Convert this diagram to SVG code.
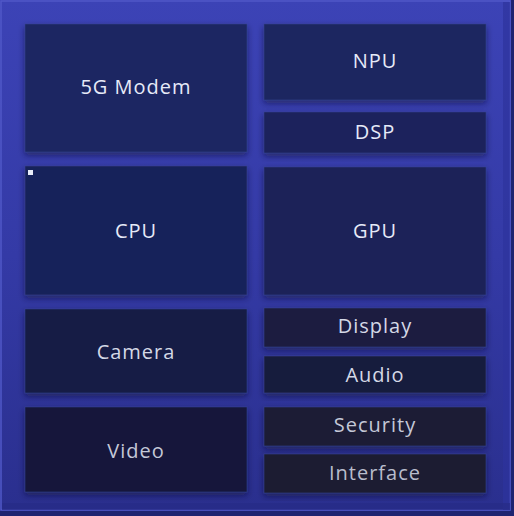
<svg xmlns="http://www.w3.org/2000/svg" width="514" height="516" viewBox="0 0 514 516">
<defs>
<linearGradient id="bg" x1="0" y1="0" x2="0" y2="1">
<stop offset="0" stop-color="#3c43b6"/>
<stop offset="0.5" stop-color="#343aa6"/>
<stop offset="1" stop-color="#2a2f8e"/>
</linearGradient>
<filter id="sh" x="-10%" y="-10%" width="120%" height="130%">
<feDropShadow dx="0" dy="3" stdDeviation="3" flood-color="#0a0d30" flood-opacity="0.55"/>
</filter>
</defs>
<style>
.box{stroke:#35418e;stroke-width:0.6;filter:url(#sh)}
.lbl{font-family:"Open Sans","Liberation Sans",sans-serif;font-size:20px;letter-spacing:1px;text-anchor:middle}
</style>
<rect x="0" y="0" width="514" height="516" fill="#1e2370"/>
<rect x="0" y="0" width="511" height="511" fill="url(#bg)"/>
<rect x="1" y="1" width="509" height="509" fill="none" stroke="#5058c8" stroke-width="1.5"/>
<rect x="503" y="2" width="7" height="508" fill="#2d339c" opacity="0.7"/>
<rect x="2" y="503" width="508" height="7" fill="#262b86" opacity="0.7"/>
<g id="modem">
<rect class="box" x="25" y="24" width="222" height="128" fill="#1c2762"/>
<text class="lbl" x="136" y="94" fill="#e6eaf8">5G Modem</text>
</g>
<g id="npu">
<rect class="box" x="264" y="24" width="222" height="76" fill="#1c2660"/>
<text class="lbl" x="375" y="68" fill="#e6eaf8">NPU</text>
</g>
<g id="dsp">
<rect class="box" x="264" y="112" width="222" height="41" fill="#1b245c"/>
<text class="lbl" x="375" y="139" fill="#e6eaf8">DSP</text>
</g>
<g id="cpu">
<rect class="box" x="25" y="166" width="222" height="129" fill="#19225a"/>
<rect x="28" y="170" width="5" height="5" fill="#e8ecf8"/>
<text class="lbl" x="136" y="238" fill="#e6eaf8">CPU</text>
</g>
<g id="gpu">
<rect class="box" x="264" y="167" width="222" height="128" fill="#1a2258"/>
<text class="lbl" x="375" y="238" fill="#e6eaf8">GPU</text>
</g>
<g id="camera">
<rect class="box" x="25" y="309" width="222" height="84" fill="#161c45"/>
<text class="lbl" x="136" y="359" fill="#d4d8e6">Camera</text>
</g>
<g id="video">
<rect class="box" x="25" y="407" width="222" height="85" fill="#13173a"/>
<text class="lbl" x="136" y="458" fill="#c4c8d8">Video</text>
</g>
<g id="display">
<rect class="box" x="264" y="308" width="222" height="39" fill="#1a1e40"/>
<text class="lbl" x="375" y="333" fill="#d4d8e6">Display</text>
</g>
<g id="audio">
<rect class="box" x="264" y="356" width="222" height="37" fill="#191c3c"/>
<text class="lbl" x="375" y="382" fill="#d4d8e6">Audio</text>
</g>
<g id="security">
<rect class="box" x="264" y="407" width="222" height="39" fill="#1a1c36"/>
<text class="lbl" x="375" y="432" fill="#c4c8d8">Security</text>
</g>
<g id="interface">
<rect class="box" x="264" y="454" width="222" height="39" fill="#1a1c32"/>
<text class="lbl" x="375" y="480" fill="#b8bccc">Interface</text>
</g>
<g id="connectors"></g>
</svg>
